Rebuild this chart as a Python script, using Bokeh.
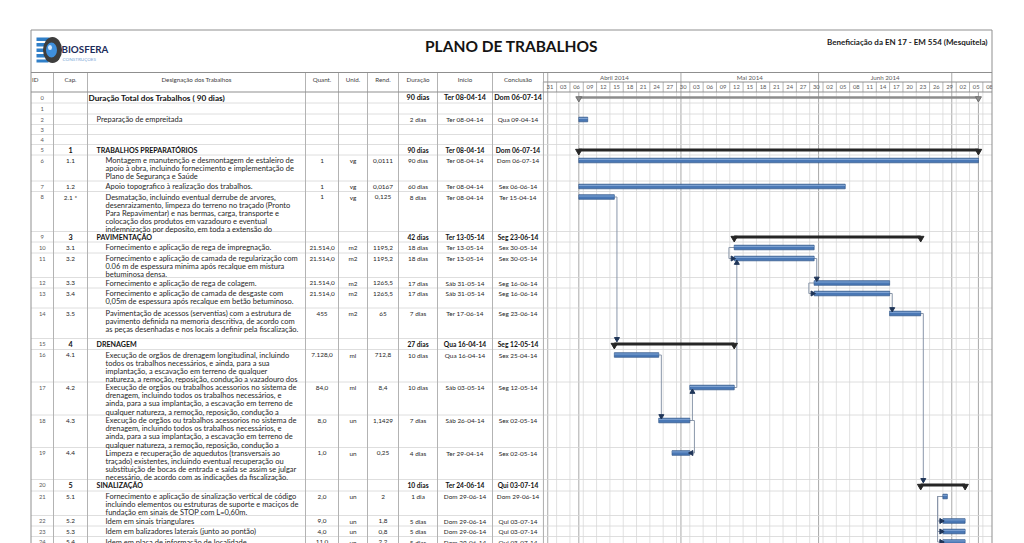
import numpy as np
import pandas as pd
from bokeh.plotting import figure
from bokeh.models import Range1d, ColumnDataSource
from bokeh.core.properties import value
from bokeh.embed import file_html
from bokeh.resources import INLINE

# ---------------- data ----------------
row_ids = [str(i) for i in range(25)]
caps = ["", "", "", "", "", "1", "1.1", "1.2", "2.1 *", "3", "3.1", "3.2", "3.3", "3.4", "3.5",
        "4", "4.1", "4.2", "4.3", "4.4", "5", "5.1", "5.2", "5.3", "5.4"]
names = [
    "Duração Total dos Trabalhos ( 90 dias)",
    "",
    "Preparação de empreitada",
    "",
    "",
    "TRABALHOS PREPARATÓRIOS",
    "Montagem e manutenção e desmontagem de estaleiro de\napoio à obra, incluindo fornecimento e implementação de\nPlano de  Segurança e Saúde",
    "Apoio topografico à realização dos trabalhos.",
    "Desmatação, incluindo eventual derrube de arvores,\ndesenraizamento, limpeza do terreno no traçado (Pronto\nPara Repavimentar) e nas bermas, carga, transporte e\ncolocação dos produtos em vazadouro e eventual\nindemnização por deposito, em toda a extensão do",
    "PAVIMENTAÇÃO",
    "Fornecimento e aplicação de rega de impregnação.",
    "Fornecimento e aplicação de camada de regularização com\n0.06 m de espessura minima após recalque em mistura\nbetuminosa densa.",
    "Fornecimento e aplicação de rega de colagem.",
    "Fornecimento e aplicação de camada de desgaste com\n0,05m de espessura após recalque em betão betuminoso.",
    "Pavimentação de acessos (serventias) com a estrutura de\npavimento definida na memoria descritiva, de acordo com\nas peças desenhadas e nos locais a definir pela fiscalização.",
    "DRENAGEM",
    "Execução de orgãos de drenagem longitudinal, incluindo\ntodos os trabalhos necessários, e ainda, para a sua\nimplantação, a escavação em terreno de qualquer\nnatureza, a remoção, reposição, condução a vazadouro dos",
    "Execução de orgãos ou trabalhos acessorios no sistema de\ndrenagem, incluindo todos os trabalhos necessários, e\nainda, para a sua implantação, a escavação em terreno de\nqualquer natureza, a remoção, reposição, condução a",
    "Execução de orgãos ou trabalhos acessorios no sistema de\ndrenagem, incluindo todos os trabalhos necessários, e\nainda, para a sua implantação, a escavação em terreno de\nqualquer natureza, a remoção, reposição, condução a",
    "Limpeza e recuperação de aquedutos (transversais ao\ntraçado) existentes, incluindo eventual recuperação ou\nsubstituição de bocas de entrada e saída se assim se julgar\nnecessário, de acordo com as indicações da fiscalização.",
    "SINALIZAÇÃO",
    "Fornecimento e aplicação de sinalização vertical de código\nincluindo elementos ou estruturas de suporte e maciços de\nfundação em sinais de STOP com L=0,60m.",
    "Idem em sinais triangulares",
    "Idem em balizadores laterais (junto ao pontão)",
    "Idem em placa de informação de localidade",
]
kinds = ["project", "", "task", "", "", "summary", "task", "task", "task", "summary", "task", "task",
         "task", "task", "task", "summary", "task", "task", "task", "task", "summary", "task",
         "task", "task", "task"]
levels = [0, 1, 1, 1, 1, 1, 2, 2, 2, 1, 2, 2, 2, 2, 2, 1, 2, 2, 2, 2, 1, 2, 2, 2, 2]
quants = ["", "", "", "", "", "", "1", "1", "1", "", "21.514,0", "21.514,0", "21.514,0", "21.514,0",
          "455", "", "7.128,0", "84,0", "8,0", "1,0", "", "2,0", "9,0", "4,0", "11,0"]
units = ["", "", "", "", "", "", "vg", "vg", "vg", "", "m2", "m2", "m2", "m2", "m2", "", "ml", "ml",
         "un", "un", "", "un", "un", "un", "un"]
rends = ["", "", "", "", "", "", "0,0111", "0,0167", "0,125", "", "1195,2", "1195,2", "1265,5",
         "1265,5", "65", "", "712,8", "8,4", "1,1429", "0,25", "", "2", "1,8", "0,8", "2,2"]
durations = ["90 dias", "", "2 dias", "", "", "90 dias", "90 dias", "60 dias", "8 dias", "42 dias",
             "18 dias", "18 dias", "17 dias", "17 dias", "7 dias", "27 dias", "10 dias", "10 dias",
             "7 dias", "4 dias", "10 dias", "1 dia", "5 dias", "5 dias", "5 dias"]
start_dates = ["2014-04-08", None, "2014-04-08", None, None, "2014-04-08", "2014-04-08", "2014-04-08",
               "2014-04-08", "2014-05-13", "2014-05-13", "2014-05-13", "2014-05-31", "2014-05-31",
               "2014-06-17", "2014-04-16", "2014-04-16", "2014-05-03", "2014-04-26", "2014-04-29",
               "2014-06-24", "2014-06-29", "2014-06-29", "2014-06-29", "2014-06-29"]
end_dates = ["2014-07-06", None, "2014-04-09", None, None, "2014-07-06", "2014-07-06", "2014-06-06",
             "2014-04-15", "2014-06-23", "2014-05-30", "2014-05-30", "2014-06-16", "2014-06-16",
             "2014-06-23", "2014-05-12", "2014-04-25", "2014-05-12", "2014-05-02", "2014-05-02",
             "2014-07-03", "2014-06-29", "2014-07-03", "2014-07-03", "2014-07-03"]
start_labels = ["Ter 08-04-14", "", "Ter 08-04-14", "", "", "Ter 08-04-14", "Ter 08-04-14",
                "Ter 08-04-14", "Ter 08-04-14", "Ter 13-05-14", "Ter 13-05-14", "Ter 13-05-14",
                "Sáb 31-05-14", "Sáb 31-05-14", "Ter 17-06-14", "Qua 16-04-14", "Qua 16-04-14",
                "Sáb 03-05-14", "Sáb 26-04-14", "Ter 29-04-14", "Ter 24-06-14", "Dom 29-06-14",
                "Dom 29-06-14", "Dom 29-06-14", "Dom 29-06-14"]
end_labels = ["Dom 06-07-14", "", "Qua 09-04-14", "", "", "Dom 06-07-14", "Dom 06-07-14",
              "Sex 06-06-14", "Ter 15-04-14", "Seg 23-06-14", "Sex 30-05-14", "Sex 30-05-14",
              "Seg 16-06-14", "Seg 16-06-14", "Seg 23-06-14", "Seg 12-05-14", "Sex 25-04-14",
              "Seg 12-05-14", "Sex 02-05-14", "Sex 02-05-14", "Qui 03-07-14", "Dom 29-06-14",
              "Qui 03-07-14", "Qui 03-07-14", "Qui 03-07-14"]
# (type, predecessor row, successor row)
links = [("FS", 8, 15), ("FS", 16, 18), ("FS", 18, 17), ("FF", 18, 19), ("FS", 17, 11),
         ("SS", 10, 11), ("FS", 11, 12), ("SS", 12, 13), ("FS", 13, 14), ("FS", 14, 20),
         ("SS", 21, 22), ("SS", 21, 23), ("SS", 21, 24)]
col_headers = ["ID", "Cap.", "Designação dos Trabalhos", "Quant.", "Unid.", "Rend.", "Duração",
               "Início", "Conclusão"]
month_labels = ["Abril 2014", "Mai 2014", "Junh 2014", ""]
month_starts = ["2014-04-01", "2014-05-01", "2014-06-01", "2014-07-01", "2014-08-01"]
title = "PLANO DE TRABALHOS"
subtitle = "Beneficiação da  EN 17 - EM 554 (Mesquitela)"

# ---------------- layout (pixels) ----------------
W, H = 1024, 543
FONT = "Lato"
col_edges = [30.5, 53, 87, 305, 338, 367, 398, 437, 492, 543]
row_heights = [11, 11, 10.5, 10, 10, 10.5, 26, 10.5, 40, 10.5, 11, 24.5, 10.5, 20, 30.5, 11,
               32.5, 33, 32.5, 32, 11.5, 24.5, 10.5, 10.5, 10.5]
HDR_TOP, HDR_MID, HDR_BOT = 72, 81.5, 91.5
RIGHT = 991.5
row_tops = HDR_BOT + np.concatenate([[0], np.cumsum(row_heights)[:-1]])
row_bottoms = row_tops + np.array(row_heights)
first_y = row_tops + 5.5
LINE_H = 8.2
indent_x = {0: 88, 1: 96, 2: 105}

MS_DAY = 86400000.0
PPD = 4.44          # pixels per day
X_ORIGIN = 542.8    # pixel position of timeline origin
T_ORIGIN = "2014-03-31"


def ms(d):
    return pd.Timestamp(d).value / 1e6


t_start = ms(T_ORIGIN) - X_ORIGIN / PPD * MS_DAY
t_end = t_start + W / PPD * MS_DAY

p = figure(width=W, height=H, x_range=Range1d(0, W), y_range=Range1d(H, 0),
           output_backend="svg", toolbar_location=None, min_border=0,
           x_axis_location=None, y_axis_location=None)
p.outline_line_color = None
p.grid.visible = False
p.background_fill_color = "white"
p.border_fill_color = "white"
p.extra_x_ranges = {"t": Range1d(start=t_start, end=t_end)}


def txt(x, y, t, size, bold=False, align="left", color="#262626", rng=None, baseline="middle",
        font=FONT, italic=False):
    src = ColumnDataSource(dict(x=list(x), y=list(y), t=list(t)))
    kw = {"x_range_name": rng} if rng else {}
    style = "bold" if bold else "normal"
    if italic:
        style = "bold italic" if bold else "italic"
    p.text("x", "y", text="t", source=src, text_font=value(font),
           text_font_size=value(f"{size}px"), text_font_style=style, text_align=align,
           text_baseline=baseline, text_color=color, **kw)


def seg(x0, y0, x1, y1, color, width=1.0, rng=None):
    src = ColumnDataSource(dict(x0=list(x0), y0=list(y0), x1=list(x1), y1=list(y1)))
    kw = {"x_range_name": rng} if rng else {}
    p.segment("x0", "y0", "x1", "y1", source=src, line_color=color, line_width=width, **kw)


# ---------------- timeline grid ----------------
tick_dates = pd.date_range(T_ORIGIN, "2014-07-11", freq="3D")
tick_ms = [ms(d) for d in tick_dates]
n = len(tick_ms)
seg(tick_ms, [HDR_BOT] * n, tick_ms, [H] * n, "#e1e1e1", 1, "t")
seg(tick_ms, [HDR_MID] * n, tick_ms, [HDR_BOT] * n, "#b5b5b5", 1, "t")
mstart = [ms(d) for d in month_starts]
seg(mstart, [HDR_TOP] * len(mstart), mstart, [H] * len(mstart), "#a9a9a9", 1, "t")
proj_lines = [ms(start_dates[0]), ms(end_dates[0]) + MS_DAY]
seg(proj_lines, [HDR_BOT] * 2, proj_lines, [H] * 2, "#a9a9a9", 1, "t")

# day tier labels
lab_ms = [ms(d) + 1.5 * MS_DAY for d in tick_dates[:-1]]
txt(lab_ms, [HDR_MID + 5.2] * len(lab_ms), [d.strftime("%d") for d in tick_dates[:-1]], 5.8,
    align="center", color="#5a5a5a", rng="t")
# month labels
mid_ms = [(mstart[i] + mstart[i + 1]) / 2 for i in range(len(month_labels))]
txt(mid_ms, [HDR_TOP + 4.8] * len(mid_ms), month_labels, 6.2, align="center", color="#5a5a5a",
    rng="t")

# ---------------- table grid ----------------
nr = len(row_bottoms)
seg([30.5] * nr, row_bottoms, [RIGHT] * nr, row_bottoms, "#d6d6d6", 0.8)
ce = col_edges[1:]
seg(ce, [HDR_TOP] * len(ce), ce, [H] * len(ce), "#b3b3b3", 1)
seg([543, 30.5, 30.5, 30.5], [HDR_MID, HDR_TOP, HDR_BOT, 29.5],
    [RIGHT, RIGHT, RIGHT, RIGHT], [HDR_MID, HDR_TOP, HDR_BOT, 29.5], "#8f8f8f", 1)

# ---------------- links ----------------
off_fs = 2.6 / PPD * MS_DAY
off_ss = 5.3 / PPD * MS_DAY
off_ff = 4.6 / PPD * MS_DAY
lx, ly = [], []
arr = {"down": ([], []), "up": ([], []), "right": ([], []), "left": ([], [])}
for typ, a, b in links:
    ya, yb = first_y[a], first_y[b]
    sa, ea = ms(start_dates[a]), ms(end_dates[a]) + MS_DAY
    sb, eb = ms(start_dates[b]), ms(end_dates[b]) + MS_DAY
    if typ == "FS":
        xv = ea + off_fs
        if yb > ya:
            ystop = yb - (3.2 if kinds[b] == "summary" else 2.6)
            lx.append([ea, xv, xv]); ly.append([ya, ya, ystop - 2])
            arr["down"][0].append(xv); arr["down"][1].append(ystop - 1.8)
        else:
            ystop = yb + 2.6
            lx.append([ea, xv, xv]); ly.append([ya, ya, ystop + 2])
            arr["up"][0].append(xv); arr["up"][1].append(ystop + 1.8)
    elif typ == "SS":
        xv = sa - off_ss
        lx.append([sa, xv, xv, sb]); ly.append([ya, ya, yb, yb])
        arr["right"][0].append(sb - 1.6 / PPD * MS_DAY); arr["right"][1].append(yb)
    elif typ == "FF":
        xv = ea + off_ff
        lx.append([ea, xv, xv, eb]); ly.append([ya, ya, yb, yb])
        arr["left"][0].append(eb + 1.6 / PPD * MS_DAY); arr["left"][1].append(yb)
p.multi_line(lx, ly, line_color="#8a97aa", line_width=1, x_range_name="t")

# ---------------- bars ----------------
tk = [i for i, k in enumerate(kinds) if k == "task"]
src_t = ColumnDataSource(dict(
    l=[ms(start_dates[i]) for i in tk], r=[ms(end_dates[i]) + MS_DAY for i in tk],
    t=[first_y[i] - 2.3 for i in tk], b=[first_y[i] + 2.3 for i in tk]))
p.quad(left="l", right="r", top="t", bottom="b", source=src_t, fill_color="#4a78b5",
       line_color="#2f5486", line_width=0.7, x_range_name="t")
src_h = ColumnDataSource(dict(
    l=[ms(start_dates[i]) for i in tk], r=[ms(end_dates[i]) + MS_DAY for i in tk],
    t=[first_y[i] - 1.6 for i in tk], b=[first_y[i] - 0.6 for i in tk]))
p.quad(left="l", right="r", top="t", bottom="b", source=src_h, fill_color="#7fa3d3",
       line_color=None, x_range_name="t")

sm = [i for i, k in enumerate(kinds) if k == "summary"]
src_s = ColumnDataSource(dict(
    l=[ms(start_dates[i]) for i in sm], r=[ms(end_dates[i]) + MS_DAY for i in sm],
    t=[first_y[i] - 1.6 for i in sm], b=[first_y[i] + 1.6 for i in sm]))
p.quad(left="l", right="r", top="t", bottom="b", source=src_s, fill_color="#262626",
       line_color=None, x_range_name="t")
cap_x = [ms(start_dates[i]) for i in sm] + [ms(end_dates[i]) + MS_DAY for i in sm]
cap_y = [first_y[i] + 1.2 for i in sm] * 2
p.scatter(cap_x, cap_y, marker="inverted_triangle", size=6.5, fill_color="#262626",
          line_color="#262626", x_range_name="t")

pj = [i for i, k in enumerate(kinds) if k == "project"]
src_p = ColumnDataSource(dict(
    l=[ms(start_dates[i]) for i in pj], r=[ms(end_dates[i]) + MS_DAY for i in pj],
    t=[first_y[i] - 1.2 for i in pj], b=[first_y[i] + 1.2 for i in pj]))
p.quad(left="l", right="r", top="t", bottom="b", source=src_p, fill_color="#8c8c8c",
       line_color=None, x_range_name="t")
pcx = [ms(start_dates[i]) for i in pj] + [ms(end_dates[i]) + MS_DAY for i in pj]
pcy = [first_y[i] + 1.0 for i in pj] * 2
p.scatter(pcx, pcy, marker="inverted_triangle", size=6, fill_color="#8c8c8c",
          line_color="#6e6e6e", x_range_name="t")

# arrowheads
AC = "#1f3558"
p.scatter(arr["down"][0], arr["down"][1], marker="inverted_triangle", size=5, fill_color=AC,
          line_color=AC, x_range_name="t")
p.scatter(arr["up"][0], arr["up"][1], marker="triangle", size=5, fill_color=AC,
          line_color=AC, x_range_name="t")
p.scatter(arr["right"][0], arr["right"][1], marker="triangle", angle=-np.pi / 2, size=5,
          fill_color=AC, line_color=AC, x_range_name="t")
p.scatter(arr["left"][0], arr["left"][1], marker="triangle", angle=np.pi / 2, size=5,
          fill_color=AC, line_color=AC, x_range_name="t")

# white page margin to the right of the frame
p.quad(left=[RIGHT + 0.5], right=[W], top=[0], bottom=[H], fill_color="white", line_color=None)
seg([30.5, RIGHT], [29.5, 29.5], [30.5, RIGHT], [H, H], "#8f8f8f", 1)

# ---------------- table texts ----------------
hx = [31.5] + [(col_edges[i] + col_edges[i + 1]) / 2 for i in range(1, 9)]
txt(hx[:1], [79], col_headers[:1], 6.2, color="#404040")
txt(hx[1:], [79] * 8, col_headers[1:], 6.2, align="center", color="#404040")

id_x = (col_edges[0] + col_edges[1]) / 2
cap_cx = (col_edges[1] + col_edges[2]) / 2
qx, ux, rx, dx, sx, ex = [(col_edges[i] + col_edges[i + 1]) / 2 for i in range(3, 9)]

txt([id_x] * 25, first_y, row_ids, 5.8, align="center", color="#595959")

reg = {"x": [], "y": [], "t": []}
nb = {"x": [], "y": [], "t": []}       # small numeric regular
sb_ = {"x": [], "y": [], "t": []}      # summary bold text
sbn = {"x": [], "y": [], "t": []}      # summary bold numbers
for i in range(25):
    y0 = first_y[i]
    k = kinds[i]
    if k == "project":
        txt([indent_x[0]], [y0], [names[i]], 8.2, bold=True, color="#111111")
        txt([dx, sx, ex], [y0] * 3, [durations[i], start_labels[i], end_labels[i]], 7.2,
            bold=True, align="center", color="#111111")
        continue
    if k == "summary":
        sb_["x"] += [cap_cx, indent_x[levels[i]]]
        sb_["y"] += [y0, y0]
        sb_["t"] += [caps[i], names[i]]
        for xx, tt in ((dx, durations[i]), (sx, start_labels[i]), (ex, end_labels[i])):
            sbn["x"].append(xx); sbn["y"].append(y0); sbn["t"].append(tt)
        continue
    if names[i]:
        for j, line in enumerate(names[i].split("\n")):
            reg["x"].append(indent_x[levels[i]]); reg["y"].append(y0 + j * LINE_H)
            reg["t"].append(line)
    for xx, tt in ((cap_cx, caps[i]), (qx, quants[i]), (ux, units[i]), (rx, rends[i]),
                   (dx, durations[i]), (sx, start_labels[i]), (ex, end_labels[i])):
        if tt:
            nb["x"].append(xx); nb["y"].append(y0); nb["t"].append(tt)

txt(reg["x"], reg["y"], reg["t"], 7.5, color="#262626")
txt(nb["x"], nb["y"], nb["t"], 6.4, align="center", color="#262626")
txt(sb_["x"][0::2], sb_["y"][0::2], sb_["t"][0::2], 7.2, bold=True, align="center",
    color="#111111")
txt(sb_["x"][1::2], sb_["y"][1::2], sb_["t"][1::2], 7.1, bold=True, color="#111111")
txt(sbn["x"], sbn["y"], sbn["t"], 6.7, bold=True, align="center", color="#111111")

# ---------------- header: title, subtitle, logo ----------------
txt([511], [45], [title], 15.5, bold=True, align="center", color="#141414")
txt([989], [41], [subtitle], 8, bold=True, align="right", color="#1a1a1a")

# logo (decorative)
p.quad(left=[36, 36, 36, 36, 36], right=[49, 52, 53, 52, 48],
       top=[37, 42.5, 48, 53.5, 59], bottom=[40.5, 46, 51.5, 57, 62],
       fill_color="#2f7fc8", line_color=None)
p.ellipse(x=[52], y=[49.5], width=[19], height=[26], fill_color="#3d3d3d", line_color=None)
p.ellipse(x=[51], y=[49.5], width=[11], height=[15], fill_color="#3f8fdc", line_color=None)
p.ellipse(x=[49.5], y=[47], width=[4], height=[5], fill_color="#d8ecff", line_color=None)
txt([61], [48.5], ["BIOSFERA"], 9.8, bold=True, color="#1c2c5a")
txt([62], [58.5], ["CONSTRUÇÕES"], 4.6, color="#7aa6d6")

open("out.html", "w").write(file_html(p, INLINE))
